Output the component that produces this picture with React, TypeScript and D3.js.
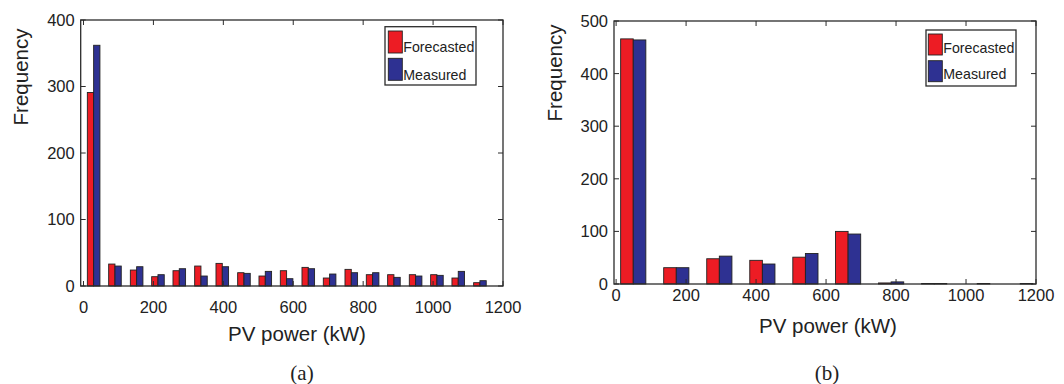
import React from "react";
import * as d3 from "d3";

// ---- Data ----
const binsA = [29, 90, 152, 213, 274, 336, 397, 459, 520, 581, 643, 704, 766, 827, 888, 950, 1011, 1072, 1134];
const forecastA = [291, 33, 24, 14, 23, 30, 34, 20, 15, 23, 28, 12, 25, 17, 17, 17, 17, 12, 5];
const measuredA = [362, 30, 29, 17, 26, 15, 29, 19, 22, 11, 26, 18, 20, 20, 13, 15, 16, 22, 8];

const binsB = [49, 172, 295, 418, 541, 663, 786, 909, 1032, 1155];
const forecastB = [466, 31, 48, 45, 51, 100, 2, 1, 0, 0];
const measuredB = [464, 31, 53, 38, 58, 95, 4, 1, 1, 1];

const xTicks = [0, 200, 400, 600, 800, 1000, 1200];
const yTicksA = [0, 100, 200, 300, 400];
const yTicksB = [0, 100, 200, 300, 400, 500];
const seriesNames = ["Forecasted", "Measured"];
const RED = "#ED1C24";
const BLUE = "#2E3192";
const AX = "#2b2b2b";
const FONT = "'Liberation Sans', Arial, Helvetica, sans-serif";

type PanelProps = {
  bins: number[];
  f: number[];
  m: number[];
  xDomain: [number, number];
  xRange: [number, number];
  yMax: number;
  yTicks: number[];
  top: number;
  bottom: number;
  barW: number;
  tickBase: number;
  xLabelX: number;
  xLabelBase: number;
  yLabelX: number;
  yLabelY: number;
  caption: string;
  capX: number;
  legend: { x0: number; x1: number; y0: number; y1: number; sx: number; sy1: number; sy2: number; sh: number; tb1: number; tb2: number };
};

function Panel(p: PanelProps) {
  const x = d3.scaleLinear().domain(p.xDomain).range(p.xRange);
  const y = d3.scaleLinear().domain([0, p.yMax]).range([p.bottom, p.top]);
  const [L, R] = p.xRange;
  const tl = 5;
  const lg = p.legend;
  return (
    <g>
      {p.bins.map((c, i) => (
        <g key={i}>
          <rect x={x(c - p.barW)} y={y(p.f[i])} width={x(c) - x(c - p.barW)} height={p.bottom - y(p.f[i])}
            fill={RED} stroke="#222" strokeWidth={0.9} />
          <rect x={x(c)} y={y(p.m[i])} width={x(c + p.barW) - x(c)} height={p.bottom - y(p.m[i])}
            fill={BLUE} stroke="#222" strokeWidth={0.9} />
        </g>
      ))}
      <rect x={L} y={p.top} width={R - L} height={p.bottom - p.top} fill="none" stroke={AX} strokeWidth={1.3} />
      {xTicks.map((t) => (
        <g key={"x" + t}>
          <line x1={x(t)} x2={x(t)} y1={p.bottom} y2={p.bottom - tl} stroke={AX} strokeWidth={1} />
          <line x1={x(t)} x2={x(t)} y1={p.top} y2={p.top + tl} stroke={AX} strokeWidth={1} />
          <text x={x(t)} y={p.tickBase} textAnchor="middle" fontSize={16.5} fontFamily={FONT} fill="#222">{t}</text>
        </g>
      ))}
      {p.yTicks.map((t) => (
        <g key={"y" + t}>
          <line x1={L} x2={L + tl} y1={y(t)} y2={y(t)} stroke={AX} strokeWidth={1} />
          <line x1={R} x2={R - tl} y1={y(t)} y2={y(t)} stroke={AX} strokeWidth={1} />
          <text x={L - 6} y={y(t)} dy="0.36em" textAnchor="end" fontSize={16.5} fontFamily={FONT} fill="#222">{t}</text>
        </g>
      ))}
      <text x={p.xLabelX} y={p.xLabelBase} textAnchor="middle" fontSize={20.5} fontFamily={FONT} fill="#222">PV power (kW)</text>
      <text transform={`translate(${p.yLabelX},${p.yLabelY}) rotate(-90)`} textAnchor="middle" fontSize={20.5} fontFamily={FONT} fill="#222">Frequency</text>
      <text x={p.capX} y={380} textAnchor="middle" fontSize={21} fontFamily="'Liberation Serif', 'Times New Roman', serif" fill="#222">{p.caption}</text>
      <rect x={lg.x0} y={lg.y0} width={lg.x1 - lg.x0} height={lg.y1 - lg.y0} fill="#fff" stroke={AX} strokeWidth={1.3} />
      <rect x={lg.sx} y={lg.sy1} width={14} height={lg.sh} fill={RED} stroke="#222" strokeWidth={0.9} />
      <rect x={lg.sx} y={lg.sy2} width={14} height={lg.sh} fill={BLUE} stroke="#222" strokeWidth={0.9} />
      <text x={lg.sx + 15} y={lg.tb1} fontSize={14.2} fontFamily={FONT} fill="#222">{seriesNames[0]}</text>
      <text x={lg.sx + 15} y={lg.tb2} fontSize={14.2} fontFamily={FONT} fill="#222">{seriesNames[1]}</text>
    </g>
  );
}

export default function App() {
  return (
    <svg width={1064} height={384} style={{ position: "absolute", left: 0, top: 0, background: "#fff" }}>
      <rect width={1064} height={384} fill="#fff" />
      <Panel bins={binsA} f={forecastA} m={measuredA} xDomain={[-8, 1200]} xRange={[80.7, 503]}
        yMax={400} yTicks={yTicksA} top={20} bottom={286} barW={18} tickBase={313}
        xLabelX={297} xLabelBase={341} yLabelX={28} yLabelY={77} caption="(a)" capX={302}
        legend={{ x0: 385, x1: 476, y0: 26.7, y1: 85, sx: 388.3, sy1: 31, sy2: 58.3, sh: 22, tb1: 51.7, tb2: 80 }} />
      <Panel bins={binsB} f={forecastB} m={measuredB} xDomain={[-6, 1200]} xRange={[614, 1036]}
        yMax={500} yTicks={yTicksB} top={21} bottom={284} barW={36} tickBase={301}
        xLabelX={828} xLabelBase={333} yLabelX={562} yLabelY={73} caption="(b)" capX={827}
        legend={{ x0: 926, x1: 1016, y0: 30, y1: 86, sx: 928.3, sy1: 34, sy2: 60.7, sh: 21, tb1: 53.3, tb2: 79.3 }} />
    </svg>
  );
}
